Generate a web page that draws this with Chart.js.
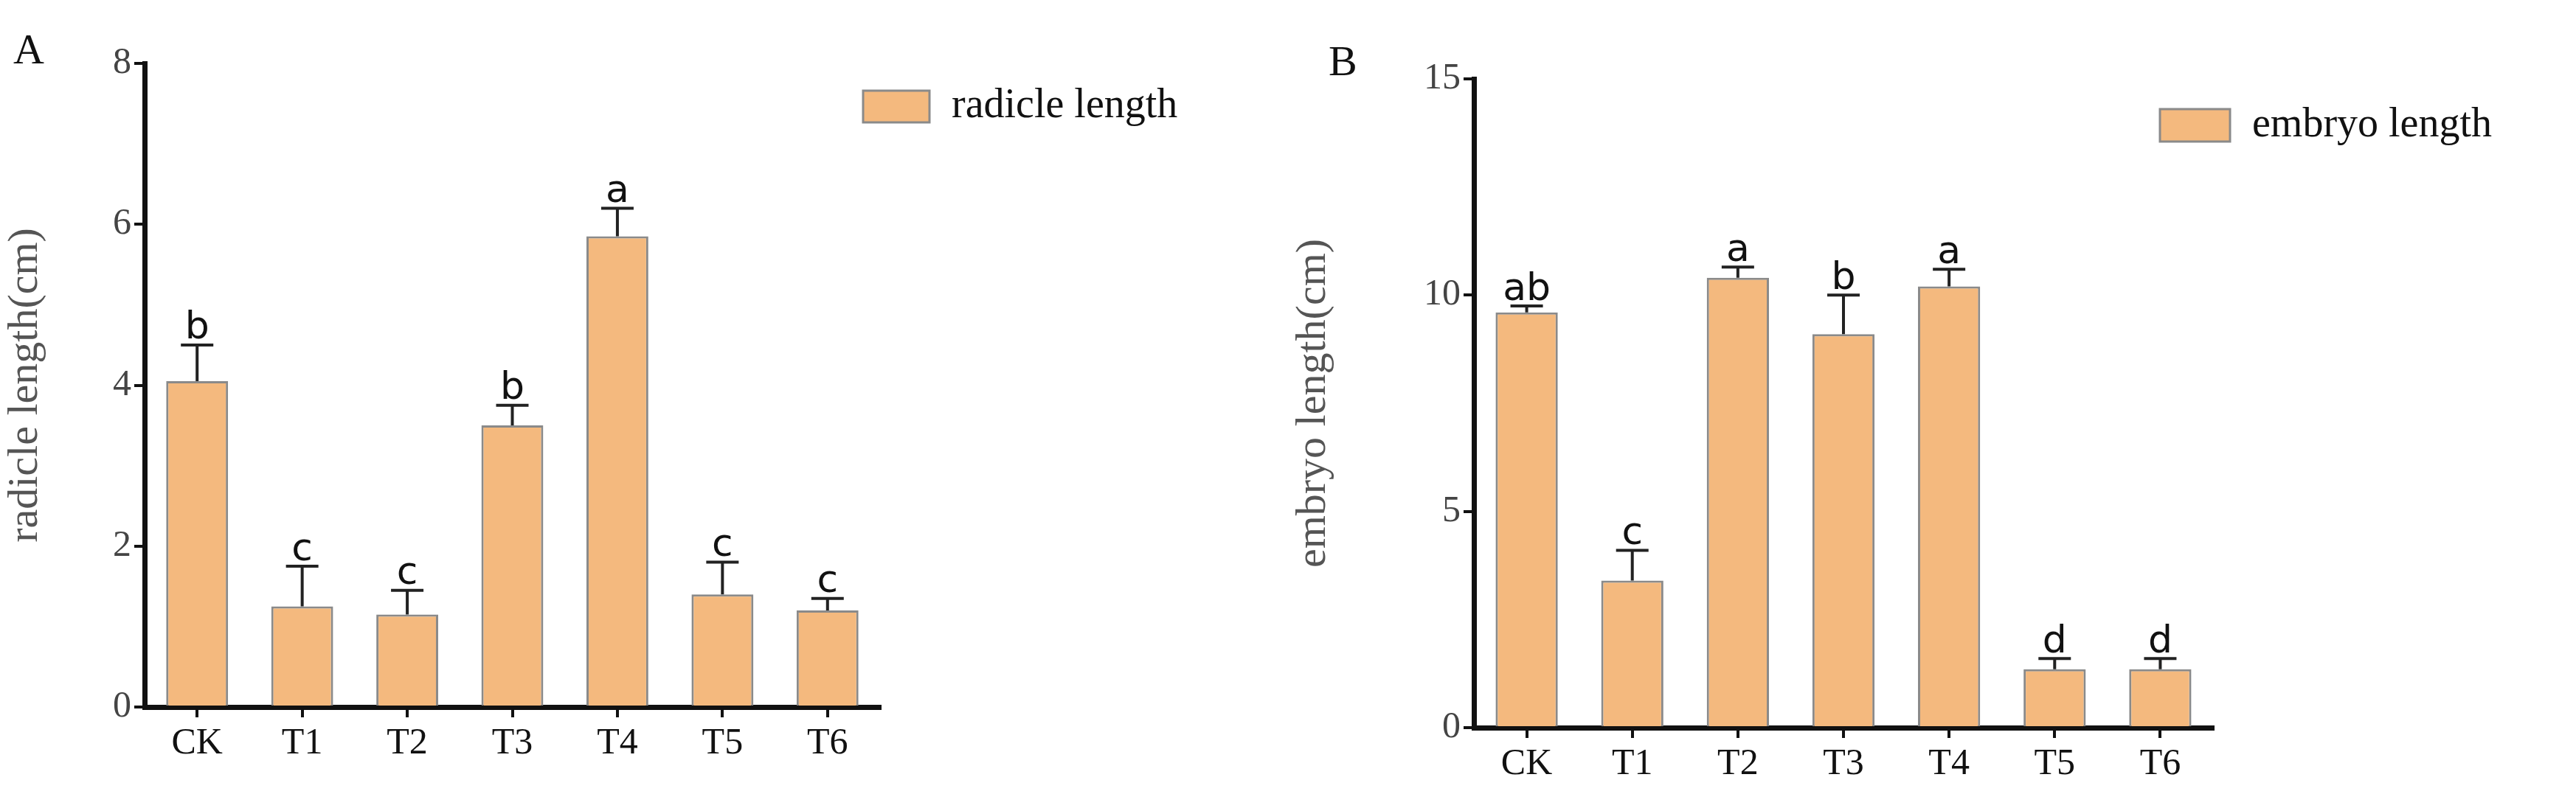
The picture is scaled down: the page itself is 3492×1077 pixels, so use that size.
<!DOCTYPE html>
<html><head><meta charset="utf-8">
<script src="https://cdn.jsdelivr.net/npm/chart.js@4/dist/chart.umd.min.js"></script>
<style>html,body{margin:0;padding:0;background:#fff;}canvas{position:absolute;top:0;}</style>
</head><body>
<canvas id="a" style="left:0px"></canvas>
<canvas id="b" style="left:1746px"></canvas>
<script>
const categories = ["CK","T1","T2","T3","T4","T5","T6"];
const radicleMean = [4.05,1.25,1.15,3.5,5.85,1.4,1.2];
const radicleErr  = [0.45,0.5,0.3,0.25,0.35,0.4,0.15];
const radicleLetters = ["b","c","c","b","a","c","c"];
const embryoMean = [9.6,3.4,10.4,9.1,10.2,1.35,1.35];
const embryoErr  = [0.15,0.7,0.25,0.9,0.4,0.25,0.25];
const embryoLetters = ["ab","c","a","b","a","d","d"];
const radicleTicks = [0,2,4,6,8];
const embryoTicks = [0,5,10,15];

const FILL="#F4B97E", EDGE="#8a8a8a";
const serif="'Liberation Serif','Times New Roman',serif";

function makeChart(id, panel, label, yTitle, means, errs, letters, ticks, geo){
  const cv=document.getElementById(id);
  cv.width=1746; cv.height=1077; cv.style.width="1746px"; cv.style.height="1077px";
  const extras={
    id:'extras',
    afterDatasetsDraw(chart){
      const c=chart.ctx, meta=chart.getDatasetMeta(0), y=chart.scales.y;
      c.save();
      meta.data.forEach((bar,i)=>{
        const top=y.getPixelForValue(means[i]+errs[i]);
        c.strokeStyle="#222"; c.lineWidth=4;
        c.beginPath(); c.moveTo(bar.x,bar.y); c.lineTo(bar.x,top);
        c.moveTo(bar.x-22,top); c.lineTo(bar.x+22,top); c.stroke();
        c.fillStyle="#111"; c.font="52px 'DejaVu Sans',sans-serif";
        c.textAlign="center"; c.textBaseline="bottom";
        c.fillText(letters[i],bar.x,top+4);
      });
      // panel letter
      c.fillStyle="#111"; c.font="58px "+serif; c.textAlign="left"; c.textBaseline="top";
      c.fillText(panel, geo.panelX, geo.panelY);
      // legend
      c.fillStyle=FILL; c.strokeStyle=EDGE; c.lineWidth=3;
      c.fillRect(geo.legX,geo.legY,geo.legW,geo.legH); c.strokeRect(geo.legX,geo.legY,geo.legW,geo.legH);
      c.fillStyle="#111"; c.font="56px "+serif; c.textBaseline="middle";
      c.fillText(label, geo.legX+geo.legW+30, geo.legY+geo.legH/2);
      c.restore();
    }
  };
  new Chart(cv,{
    type:'bar',
    data:{labels:categories,datasets:[{label,data:means,backgroundColor:FILL,borderColor:EDGE,borderWidth:3,
      categoryPercentage:0.62,barPercentage:0.95}]},
    options:{
      responsive:false,animation:false,devicePixelRatio:1,
      layout:{padding:{left:0,top:geo.top,right:geo.right,bottom:0}},
      plugins:{legend:{display:false},tooltip:{enabled:false}},
      scales:{
        x:{offset:true,
          afterFit(s){s.height=geo.bottom;},
          grid:{drawOnChartArea:false,drawTicks:true,tickLength:14,color:"#111",lineWidth:4,offset:false},
          border:{display:true,color:"#111",width:7},
          ticks:{color:"#111",font:{family:serif,size:50},padding:6}},
        y:{min:ticks[0],max:ticks[ticks.length-1],
          afterFit(s){s.width=geo.yw;},
          afterBuildTicks(s){s.ticks=ticks.map(v=>({value:v}));},
          grid:{drawOnChartArea:false,drawTicks:true,tickLength:14,color:"#111",lineWidth:4},
          border:{display:true,color:"#111",width:7},
          ticks:{color:"#444",font:{family:serif,size:50},padding:4},
          title:{display:true,text:yTitle,color:"#555",font:{family:serif,size:58},padding:{top:0,bottom:4}}}
      }
    },
    plugins:[extras]
  });
}
makeChart('a','A','radicle length','radicle length(cm)',radicleMean,radicleErr,radicleLetters,radicleTicks,
  {top:86,right:553,bottom:118,yw:196,panelX:18,panelY:42,legX:1170,legY:123,legW:90,legH:43});
makeChart('b','B','embryo length','embryo length(cm)',embryoMean,embryoErr,embryoLetters,embryoTicks,
  {top:107,right:492,bottom:90,yw:252,panelX:55,panelY:58,legX:1182,legY:148,legW:95,legH:44});
</script>
</body></html>
